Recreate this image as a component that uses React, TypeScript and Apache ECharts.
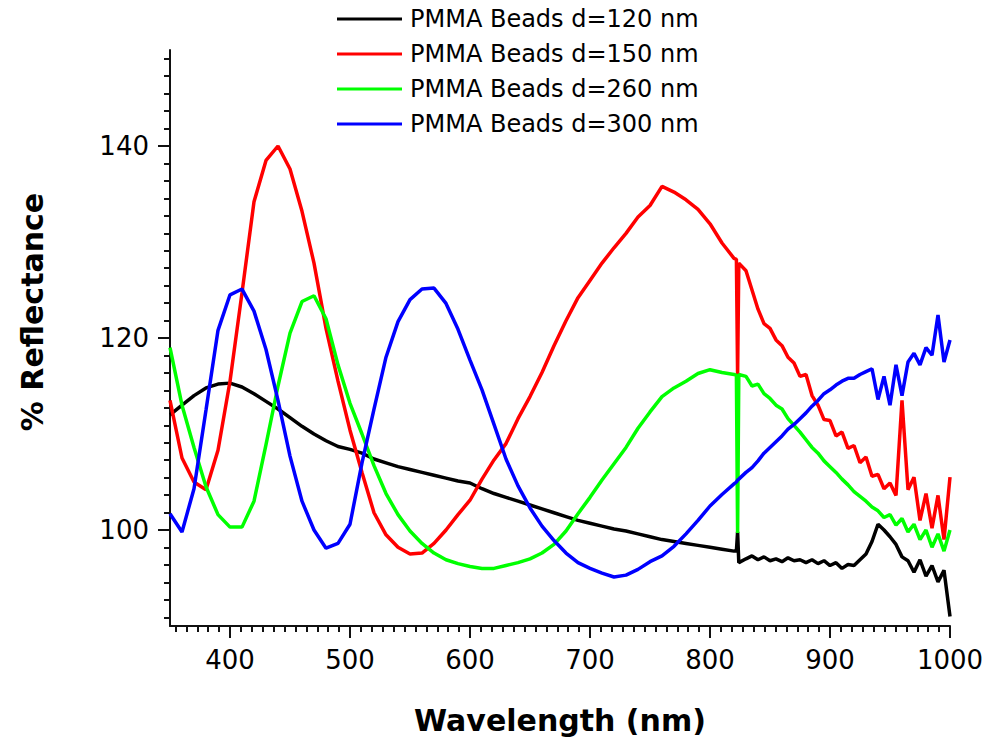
import React, { useEffect, useRef } from "react";
import * as echarts from "echarts";

// Wavelength grid (nm)
const wavelength = [
  350, 360, 370, 380, 390, 400, 410, 420, 430, 440,
  450, 460, 470, 480, 490, 500, 510, 520, 530, 540,
  550, 560, 570, 580, 590, 600, 610, 620, 630, 640,
  650, 660, 670, 680, 690, 700, 710, 720, 730, 740,
  750, 760, 770, 780, 790, 800, 810, 820,
  822, 823, 824,
  830, 835, 840, 845, 850, 855, 860, 865, 870, 875,
  880, 885, 890, 895, 900, 905, 910, 915, 920, 925,
  930, 935, 940, 945, 950, 955, 960, 965, 970, 975,
  980, 985, 990, 995, 1000,
];

const beads120 = [
  112.0, 113.0, 114.0, 114.8, 115.2, 115.3, 114.9, 114.2, 113.4, 112.6,
  111.7, 110.8, 110.0, 109.3, 108.7, 108.4, 108.0, 107.4, 107.0, 106.6,
  106.3, 106.0, 105.7, 105.4, 105.1, 104.9, 104.3, 103.8, 103.4, 103.0,
  102.6, 102.2, 101.8, 101.4, 101.0, 100.7, 100.4, 100.1, 99.9, 99.6,
  99.3, 99.0, 98.8, 98.6, 98.4, 98.2, 98.0, 97.8,
  97.8, 99.8, 96.6,
  97.0, 97.3, 96.9, 97.2, 96.8, 97.0, 96.7, 97.1, 96.8, 96.9,
  96.6, 96.9, 96.5, 96.8, 96.3, 96.6, 96.0, 96.4, 96.3, 96.9,
  97.5, 98.8, 100.6, 100.0, 99.3, 98.5, 97.2, 96.8, 95.6, 96.9,
  95.2, 96.3, 94.6, 95.8, 91.0,
];

const beads150 = [
  113.5, 107.5, 105.0, 104.2, 108.3, 115.5, 124.7, 134.2, 138.5, 140.0,
  137.6, 133.2, 127.8, 121.0, 115.5, 110.4, 106.0, 101.8, 99.5, 98.2,
  97.5, 97.6, 98.6, 100.0, 101.6, 103.1, 105.3, 107.3, 109.0, 111.6,
  113.9, 116.4, 119.2, 121.8, 124.2, 126.0, 127.8, 129.4, 130.9, 132.6,
  133.8, 135.8, 135.2, 134.4, 133.4, 131.9, 129.9, 128.3,
  128.2, 116.2, 127.8,
  127.0, 125.0, 123.0, 121.5, 121.0, 119.8, 119.2, 118.0, 117.4, 116.0,
  116.2, 114.0, 113.0, 111.5, 111.4, 109.8, 110.2, 108.5, 108.8, 107.0,
  107.6, 105.6, 105.8, 104.3, 104.9, 103.6, 113.5, 104.2, 105.5, 101.0,
  103.8, 100.2, 103.6, 99.0, 105.5,
];

const beads260 = [
  119.0, 113.0, 108.6, 104.5, 101.6, 100.3, 100.3, 103.0, 108.9, 115.0,
  120.5, 123.8, 124.4, 122.0, 117.2, 113.2, 110.0, 106.7, 103.8, 101.6,
  99.9, 98.6, 97.6, 96.9, 96.5, 96.2, 96.0, 96.0, 96.3, 96.6,
  97.0, 97.6, 98.5, 99.9, 101.7, 103.4, 105.2, 106.9, 108.6, 110.6,
  112.3, 113.9, 114.8, 115.5, 116.3, 116.7, 116.4, 116.2,
  116.1, 99.7, 116.2,
  116.0, 115.0, 115.2, 114.2, 113.7, 113.0, 112.6, 111.6, 110.9, 110.2,
  109.4, 108.6, 108.0, 107.2, 106.6, 106.0, 105.3, 104.7, 104.0, 103.5,
  103.0, 102.4, 102.0, 101.3, 101.6, 100.5, 101.2, 99.8, 100.6, 99.0,
  100.0, 98.2, 99.6, 97.8, 100.0,
];

const beads300 = [
  101.7, 99.8, 104.3, 112.5, 120.8, 124.5, 125.1, 122.8, 118.8, 113.5,
  107.7, 103.0, 100.0, 98.1, 98.6, 100.6, 107.0, 112.6, 118.0, 121.7,
  124.0, 125.1, 125.2, 123.6, 120.9, 117.7, 114.6, 111.0, 107.4, 104.6,
  102.3, 100.4, 98.9, 97.6, 96.6, 96.0, 95.5, 95.1, 95.3, 95.9,
  96.7, 97.3, 98.3, 99.6, 101.0, 102.5, 103.7, 104.8,
  105.0, 105.2, 105.3,
  106.0, 106.5, 107.2, 108.0, 108.6, 109.2, 109.8, 110.5, 111.0, 111.6,
  112.2, 112.9, 113.5, 114.2, 114.6, 115.1, 115.5, 115.8, 115.8, 116.2,
  116.5, 116.8, 113.6, 116.0, 113.0, 117.2, 114.0, 117.5, 118.4, 117.2,
  119.0, 118.2, 122.4, 117.5, 119.8,
];

const seriesNames = [
  "PMMA Beads d=120 nm",
  "PMMA Beads d=150 nm",
  "PMMA Beads d=260 nm",
  "PMMA Beads d=300 nm",
];
const seriesColors = ["#000000", "#ff0000", "#00ff00", "#0000ff"];
const seriesValues = [beads120, beads150, beads260, beads300];

const xTickLabels = [400, 500, 600, 700, 800, 900, 1000];
const yTickLabels = [100, 120, 140];
const xTitle = "Wavelength (nm)";
const yTitle = "% Reflectance";

const X_MIN = 350;
const X_MAX = 1000;
const Y_MIN = 90;
const Y_MAX = 150;

// minor tick positions: 10 minor ticks (11 intervals) between majors
function minorTicks(majors: number[], min: number, max: number): number[] {
  const step = majors[1] - majors[0];
  const sub = step / 11;
  const out: number[] = [];
  for (let k = -60; k < 400; k++) {
    if (k % 11 === 0) continue;
    const v = majors[0] + k * sub;
    if (v > min + 1e-6 && v < max - 1e-6) out.push(Number(v.toFixed(4)));
  }
  return out;
}

const FONT = "'DejaVu Sans', 'Liberation Sans', sans-serif";

export default function App() {
  const ref = useRef<HTMLDivElement>(null);

  useEffect(() => {
    if (!ref.current) return;
    const chart = echarts.init(ref.current, null, { renderer: "svg" });
    const xMinor = minorTicks(xTickLabels, X_MIN, X_MAX);
    const yMinor = minorTicks(yTickLabels, Y_MIN, Y_MAX);

    const axisLineStyle = { color: "#111", width: 2 };

    chart.setOption({
      animation: false,
      backgroundColor: "#ffffff",
      grid: { left: 170, right: 57, top: 50, bottom: 113, containLabel: false },
      legend: {
        orient: "vertical",
        left: 337,
        top: 4,
        padding: 0,
        itemGap: 5,
        itemWidth: 65,
        itemHeight: 3,
        icon: "rect",
        data: seriesNames,
        textStyle: {
          fontFamily: FONT,
          fontSize: 24,
          color: "#000",
          lineHeight: 30,
          padding: [0, 0, 0, 3],
        },
      },
      xAxis: [
        {
          type: "value",
          min: X_MIN,
          max: X_MAX,
          position: "bottom",
          axisLine: { show: true, onZero: false, lineStyle: axisLineStyle },
          axisTick: {
            show: true,
            inside: false,
            length: 12,
            customValues: xTickLabels,
            lineStyle: axisLineStyle,
          },
          axisLabel: {
            customValues: xTickLabels,
            formatter: (v: number) => String(v),
            fontFamily: FONT,
            fontSize: 26,
            color: "#000",
            margin: 21,
          },
          splitLine: { show: false },
        },
        {
          type: "value",
          min: X_MIN,
          max: X_MAX,
          position: "bottom",
          axisLine: { show: false, onZero: false },
          axisTick: {
            show: true,
            inside: false,
            length: 6,
            customValues: xMinor,
            lineStyle: axisLineStyle,
          },
          axisLabel: { show: false },
          splitLine: { show: false },
        },
      ],
      yAxis: [
        {
          type: "value",
          min: Y_MIN,
          max: Y_MAX,
          position: "left",
          axisLine: { show: true, onZero: false, lineStyle: axisLineStyle },
          axisTick: {
            show: true,
            inside: false,
            length: 12,
            customValues: yTickLabels,
            lineStyle: axisLineStyle,
          },
          axisLabel: {
            customValues: yTickLabels,
            formatter: (v: number) => String(v),
            fontFamily: FONT,
            fontSize: 26,
            color: "#000",
            margin: 21,
          },
          splitLine: { show: false },
        },
        {
          type: "value",
          min: Y_MIN,
          max: Y_MAX,
          position: "left",
          axisLine: { show: false, onZero: false },
          axisTick: {
            show: true,
            inside: false,
            length: 6,
            customValues: yMinor,
            lineStyle: axisLineStyle,
          },
          axisLabel: { show: false },
          splitLine: { show: false },
        },
      ],
      graphic: [
        {
          type: "text",
          x: 560,
          y: 720,
          style: {
            text: xTitle,
            fontFamily: FONT,
            fontSize: 30,
            fontWeight: "bold",
            fill: "#000",
            align: "center",
            verticalAlign: "middle",
            textAlign: "center",
            textVerticalAlign: "middle",
          },
        },
        {
          type: "text",
          x: 32,
          y: 312,
          rotation: Math.PI / 2,
          style: {
            text: yTitle,
            fontFamily: FONT,
            fontSize: 30,
            fontWeight: "bold",
            fill: "#000",
            align: "center",
            verticalAlign: "middle",
            textAlign: "center",
            textVerticalAlign: "middle",
          },
        },
      ],
      series: seriesNames.map((name, si) => ({
        name,
        type: "line",
        xAxisIndex: 0,
        yAxisIndex: 0,
        showSymbol: false,
        symbol: "none",
        clip: true,
        color: seriesColors[si],
        itemStyle: { color: seriesColors[si] },
        lineStyle: { color: seriesColors[si], width: 3.5 },
        z: 2 + si,
        data: wavelength.map((w, i) => [w, seriesValues[si][i]]),
      })),
    });

    return () => {
      chart.dispose();
    };
  }, []);

  return (
    <div
      ref={ref}
      style={{ position: "absolute", left: 0, top: 0, width: 1007, height: 739, background: "#fff" }}
    />
  );
}
